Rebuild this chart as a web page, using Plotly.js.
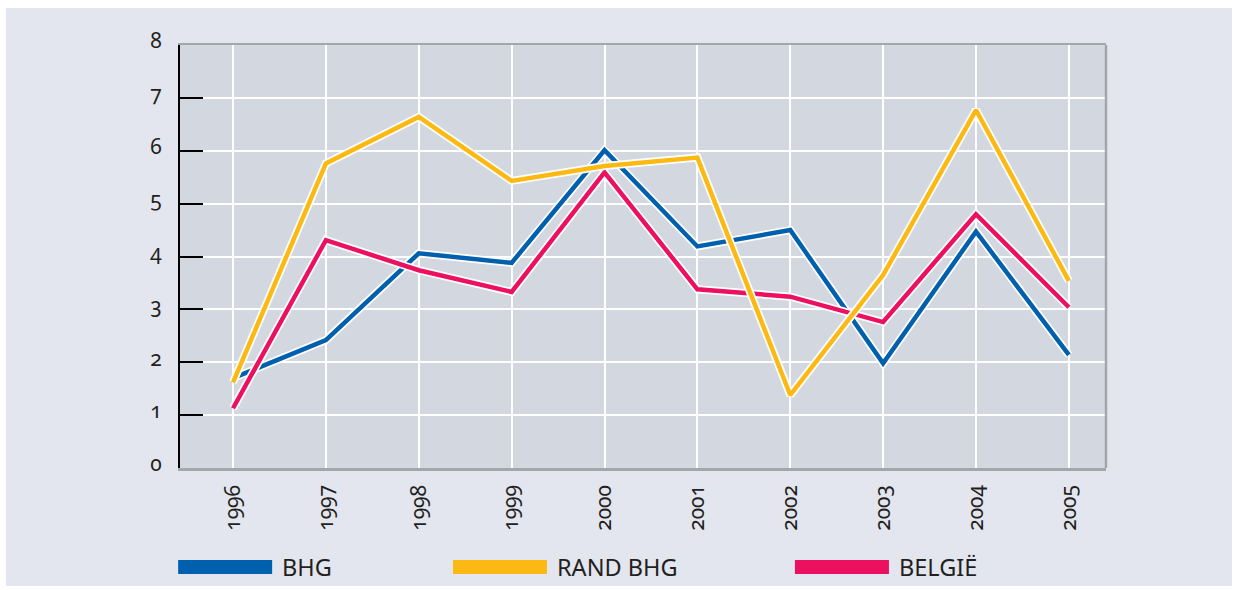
<!DOCTYPE html>
<html>
<head>
<meta charset="utf-8">
<script src="https://cdn.plot.ly/plotly-3.0.1.min.js"></script>
<style>
  html, body { margin: 0; padding: 0; background: #ffffff; width: 1242px; height: 590px; overflow: hidden; }
  #chart { position: absolute; left: 6px; top: 8px; width: 1226px; height: 578px; }
  #chart text { font-variant-numeric: oldstyle-nums !important; font-feature-settings: "onum" 1 !important; }
</style>
</head>
<body>
<div id="chart"></div>
<script>
// ---- data ----
const years = ["1996","1997","1998","1999","2000","2001","2002","2003","2004","2005"];
const bhg     = [1.70, 2.42, 4.06, 3.88, 6.01, 4.19, 4.50, 1.98, 4.47, 2.14];
const randBhg = [1.62, 5.76, 6.64, 5.43, 5.71, 5.87, 1.38, 3.65, 6.77, 3.54];
const belgie  = [1.13, 4.31, 3.74, 3.33, 5.59, 3.38, 3.24, 2.76, 4.80, 3.04];
const seriesNames = ["BHG", "RAND BHG", "BELGIË"];
const yTicks = [0, 1, 2, 3, 4, 5, 6, 7, 8];

// ---- styles ----
const colors = { "BHG": "#0060ad", "RAND BHG": "#fdb913", "BELGIË": "#ec1060" };
const FONT = "Noto Sans, Open Sans, sans-serif";
const TXT = "#231f20";

const seriesData = { "BHG": bhg, "RAND BHG": randBhg, "BELGIË": belgie };
const drawOrder = ["BHG", "BELGIË", "RAND BHG"];

const traces = [];
drawOrder.forEach(name => {
  traces.push({
    x: years, y: seriesData[name], type: "scatter", mode: "lines",
    line: { color: "#ffffff", width: 8 }, hoverinfo: "skip", showlegend: false
  });
  traces.push({
    x: years, y: seriesData[name], type: "scatter", mode: "lines", name: name,
    line: { color: colors[name], width: 4.5 }, showlegend: false
  });
});

const shapes = [
  { type: "line", xref: "paper", yref: "paper", x0: 1, x1: 1, y0: 0, y1: 1,
    line: { color: "#a3a6ab", width: 2.5 }, layer: "above" }
];
const annotations = [];
const legendX = [-0.002, 0.2948, 0.6641];
const swW = 0.1015;
seriesNames.forEach((name, i) => {
  shapes.push({ type: "rect", xref: "paper", yref: "paper",
    x0: legendX[i], x1: legendX[i] + swW, y0: -0.2506, y1: -0.2175,
    fillcolor: colors[name], line: { width: 0 } });
  annotations.push({ xref: "paper", yref: "paper", x: legendX[i] + swW + 0.009, y: -0.234,
    xanchor: "left", yanchor: "middle", text: name, showarrow: false,
    font: { family: FONT, size: 23.5, color: TXT } });
});

const layout = {
  width: 1226, height: 578,
  margin: { l: 174, r: 126, t: 37, b: 118 },
  paper_bgcolor: "#e3e6ee",
  plot_bgcolor: "#d3d7e0",
  showlegend: false,
  font: { family: FONT, color: TXT, size: 21 },
  xaxis: {
    type: "category",
    range: [-0.571, 9.40],
    showgrid: true, gridcolor: "#ffffff", gridwidth: 2,
    showline: true, linecolor: "#a3a6ab", linewidth: 2.5, mirror: true,
    ticks: "", tickangle: -90,
    tickfont: { family: FONT, size: 21, color: TXT },
    ticklabelstandoff: 6,
    zeroline: false, fixedrange: true
  },
  yaxis: {
    range: [0, 8],
    tickvals: yTicks,
    showgrid: true, gridcolor: "#ffffff", gridwidth: 2,
    showline: true, linecolor: "#000000", linewidth: 2,
    ticks: "inside", ticklen: 23, tickwidth: 2, tickcolor: "#000000",
    tickfont: { family: FONT, size: 21, color: TXT },
    ticklabelstandoff: 12,
    ticklabelshift: -4,
    zeroline: false, fixedrange: true
  },
  shapes: shapes,
  annotations: annotations
};

function oldStyle() {
  document.querySelectorAll("#chart text, #chart tspan").forEach(el => {
    el.style.setProperty("font-variant-numeric", "oldstyle-nums", "important");
    el.style.setProperty("font-feature-settings", '"onum" 1', "important");
  });
}
Plotly.newPlot("chart", traces, layout, { displayModeBar: false, staticPlot: true }).then(gd => {
  oldStyle();
  gd.on("plotly_afterplot", oldStyle);
});
</script>
</body>
</html>
